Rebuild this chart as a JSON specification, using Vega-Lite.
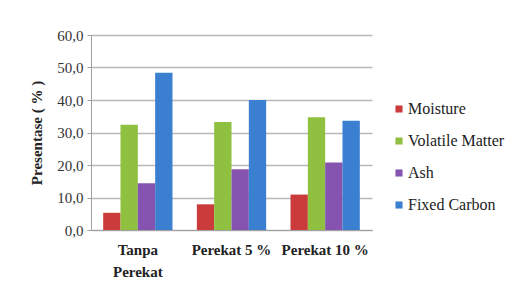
{
  "$schema": "https://vega.github.io/schema/vega-lite/v6.json",
  "width": 281,
  "height": 195,
  "autosize": "none",
  "padding": {"left": 91, "top": 35, "right": 157, "bottom": 68},
  "background": "white",
  "data": {
    "values": [
      {"kategori": "Tanpa Perekat", "komponen": "Moisture", "nilai": 5.3},
      {"kategori": "Tanpa Perekat", "komponen": "Volatile Matter", "nilai": 32.4},
      {"kategori": "Tanpa Perekat", "komponen": "Ash", "nilai": 14.4},
      {"kategori": "Tanpa Perekat", "komponen": "Fixed Carbon", "nilai": 48.4},
      {"kategori": "Perekat 5 %", "komponen": "Moisture", "nilai": 7.9},
      {"kategori": "Perekat 5 %", "komponen": "Volatile Matter", "nilai": 33.2},
      {"kategori": "Perekat 5 %", "komponen": "Ash", "nilai": 18.7},
      {"kategori": "Perekat 5 %", "komponen": "Fixed Carbon", "nilai": 40.0},
      {"kategori": "Perekat 10 %", "komponen": "Moisture", "nilai": 10.9},
      {"kategori": "Perekat 10 %", "komponen": "Volatile Matter", "nilai": 34.7},
      {"kategori": "Perekat 10 %", "komponen": "Ash", "nilai": 20.8},
      {"kategori": "Perekat 10 %", "komponen": "Fixed Carbon", "nilai": 33.6}
    ]
  },
  "mark": {"type": "bar"},
  "encoding": {
    "x": {
      "field": "kategori",
      "type": "nominal",
      "sort": ["Tanpa Perekat", "Perekat 5 %", "Perekat 10 %"],
      "scale": {"paddingInner": 0.26, "paddingOuter": 0.13},
      "axis": {
        "title": null,
        "labelAngle": 0,
        "labelFont": "Times New Roman, Liberation Serif, serif",
        "labelFontSize": 15,
        "labelFontWeight": "bold",
        "labelColor": "#222222",
        "labelPadding": 12,
        "labelLineHeight": 22,
        "ticks": false,
        "domainColor": "#a0a0a0",
        "labelExpr": "datum.label == 'Tanpa Perekat' ? ['Tanpa', 'Perekat'] : datum.label"
      }
    },
    "xOffset": {
      "field": "komponen",
      "type": "nominal",
      "sort": ["Moisture", "Volatile Matter", "Ash", "Fixed Carbon"],
      "scale": {"paddingInner": 0, "paddingOuter": 0}
    },
    "y": {
      "field": "nilai",
      "type": "quantitative",
      "scale": {"domain": [0, 60], "nice": false},
      "axis": {
        "title": "Presentase ( % )",
        "titleFont": "Times New Roman, Liberation Serif, serif",
        "titleFontSize": 15,
        "titleFontWeight": "bold",
        "titleColor": "#222222",
        "titlePadding": 12,
        "values": [0, 10, 20, 30, 40, 50, 60],
        "labelExpr": "replace(format(datum.value, '.1f'), '.', ',')",
        "labelFont": "Times New Roman, Liberation Serif, serif",
        "labelFontSize": 15,
        "labelColor": "#333333",
        "labelPadding": 4,
        "tickSize": 4,
        "tickColor": "#a0a0a0",
        "domainColor": "#a0a0a0",
        "gridColor": "#b8b8b8",
        "gridWidth": 1.5
      }
    },
    "color": {
      "field": "komponen",
      "type": "nominal",
      "sort": ["Moisture", "Volatile Matter", "Ash", "Fixed Carbon"],
      "scale": {
        "domain": ["Moisture", "Volatile Matter", "Ash", "Fixed Carbon"],
        "range": ["#cc3b3b", "#8fc03f", "#8454b0", "#3b7fd0"]
      },
      "legend": {
        "title": null,
        "orient": "none",
        "legendX": 300,
        "legendY": 66,
        "symbolType": "square",
        "symbolSize": 50,
        "symbolStrokeWidth": 0,
        "labelFont": "Times New Roman, Liberation Serif, serif",
        "labelFontSize": 16,
        "labelColor": "#222222",
        "labelOffset": 1,
        "rowPadding": 16
      }
    }
  },
  "config": {"view": {"stroke": null}, "font": "Times New Roman, Liberation Serif, serif"}
}
